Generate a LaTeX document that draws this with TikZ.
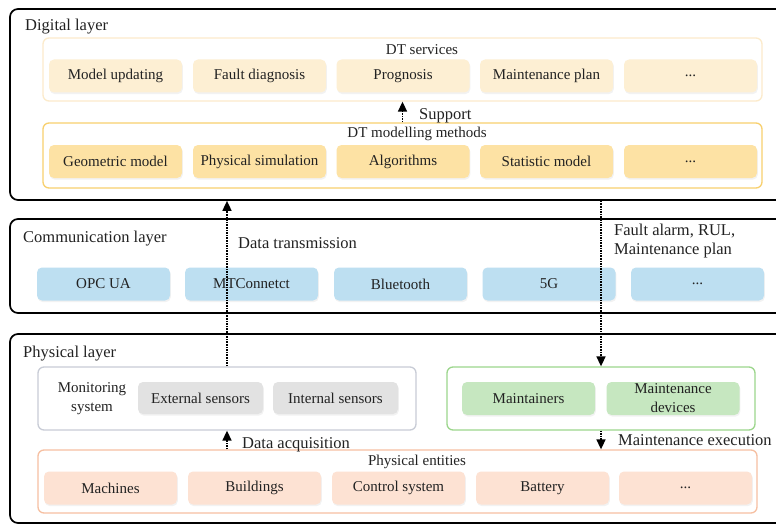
\documentclass[tikz,border=0pt]{standalone}
\usepackage{fontspec}
\setmainfont{Liberation Serif}
\usetikzlibrary{arrows.meta,shadows}
\newcommand\mydots{...}
\definecolor{svcfill}{HTML}{FDEFD3}
\definecolor{svcline}{HTML}{FCEBCB}
\definecolor{metfill}{HTML}{FDE2A4}
\definecolor{metline}{HTML}{F8D06E}
\definecolor{comfill}{HTML}{BDDFF1}
\definecolor{monline}{HTML}{C8CCD6}
\definecolor{senfill}{HTML}{E2E2E2}
\definecolor{grnline}{HTML}{9CD68C}
\definecolor{grnfill}{HTML}{C6E7C0}
\definecolor{entline}{HTML}{F6C0A2}
\definecolor{entfill}{HTML}{FDE2D3}
\definecolor{txt}{HTML}{222222}
\tikzset{
  layerbox/.style={draw=black, line width=1.7pt, rounded corners=8pt, inner sep=0},
  groupbox/.style={line width=1.3pt, rounded corners=6pt, inner sep=0, fill=white},
  itembox/.style={rounded corners=5pt, minimum width=133pt, minimum height=33pt, inner sep=0,
    font=\fontsize{15}{18}\selectfont, text=txt, align=center,
    drop shadow={opacity=0.10, shadow xshift=0.8pt, shadow yshift=-1.6pt}},
  lbl/.style={font=\fontsize{16.5}{19}\selectfont, text=txt, inner sep=0, anchor=base west},
  glbl/.style={font=\fontsize{15}{18}\selectfont, text=txt, inner sep=0, anchor=base},
  arr/.style={densely dotted, line width=1.6pt, -{Triangle[length=10pt,width=9pt]}}
}
\begin{document}
\begin{tikzpicture}[x=1pt,y=-1pt]
\useasboundingbox[fill=white] (0,0) rectangle (776,524);
% layers
\node[layerbox, minimum width=780pt, minimum height=191pt] (dig) at (400,104.5) {};
\node[layerbox, minimum width=780pt, minimum height=94pt] (com) at (400,266) {};
\node[layerbox, minimum width=780pt, minimum height=189pt] (phy) at (400,428.5) {};
\node[lbl] (digl) at (25,31) {Digital layer};
\node[lbl] (coml) at (23,242) {Communication layer};
\node[lbl] (phyl) at (23,357) {Physical layer};
% digital groups
\node[groupbox, draw=svcline, minimum width=719pt, minimum height=63pt] (svc) at (402.5,69.5) {};
\node[groupbox, draw=metline, minimum width=719pt, minimum height=65pt] (met) at (402.5,155.5) {};
\node[glbl] (svcl) at (422,55) {DT services};
\node[glbl] (metl) at (417,138) {DT modelling methods};
\foreach \n/\x/\t in {s1/115.5/Model updating, s2/259.5/Fault diagnosis, s3/403/Prognosis, s4/546.5/Maintenance plan, s5/690.5/\mydots}
  \node[itembox, fill=svcfill] (\n) at (\x,76) {\t};
\foreach \n/\x/\t in {m1/115.5/Geometric model, m2/259.5/Physical simulation, m3/403/Algorithms, m4/546.5/Statistic model, m5/690.5/\mydots}
  \node[itembox, fill=metfill] (\n) at (\x,161.5) {\t};
% communication
\foreach \n/\x/\t in {c1/103.5/OPC UA, c2/251.5/MTConnetct, c3/400.5/Bluetooth, c4/549/5G, c5/697.5/\mydots}
  \node[itembox, fill=comfill] (\n) at (\x,284) {\t};
% physical
\node[groupbox, draw=monline, fill=white, minimum width=378pt, minimum height=63pt] (mon) at (227,398.5) {};
\node[groupbox, draw=grnline, minimum width=308pt, minimum height=63pt] (grn) at (601,398.5) {};
\node[groupbox, draw=entline, minimum width=719pt, minimum height=63pt] (ent) at (397.5,481.5) {};
\node[font=\fontsize{15}{19}\selectfont, text=txt, align=center, inner sep=0] (monl) at (92,398.5) {Monitoring\\system};
\node[itembox, fill=senfill, minimum width=125pt, minimum height=32pt] (ext) at (200.5,398) {External sensors};
\node[itembox, fill=senfill, minimum width=125pt, minimum height=32pt] (int) at (335.5,398) {Internal sensors};
\node[itembox, fill=grnfill] (mt) at (528.5,398.5) {Maintainers};
\node[itembox, fill=grnfill, font=\fontsize{15}{19}\selectfont] (md) at (673,398.5) {Maintenance\\devices};
\node[glbl] (entl) at (417,465) {Physical entities};
\foreach \n/\x/\t in {e1/110.5/Machines, e2/254.5/Buildings, e3/398.5/Control system, e4/542.5/Battery, e5/685.5/\mydots}
  \node[itembox, fill=entfill] (\n) at (\x,488) {\t};
% arrows
\draw[arr] (met.north) -- (svc.south);
\node[lbl] (supl) at (419,120) {Support};
\draw[arr] (mon.north) -- (dig.south -| mon.north);
\node[lbl] (dtl) at (238,248) {Data transmission};
\draw[arr] (dig.south -| grn.north) -- (grn.north);
\node[lbl, align=left, anchor=north west] (fal) at (614,224) {Fault alarm, RUL,\\Maintenance plan};
\draw[arr] (ent.north -| mon.south) -- (mon.south);
\node[lbl] (dal) at (242,448) {Data acquisition};
\draw[arr] (grn.south) -- (ent.north -| grn.south);
\node[lbl] (mel) at (618,445) {Maintenance execution};
\end{tikzpicture}
\end{document}
